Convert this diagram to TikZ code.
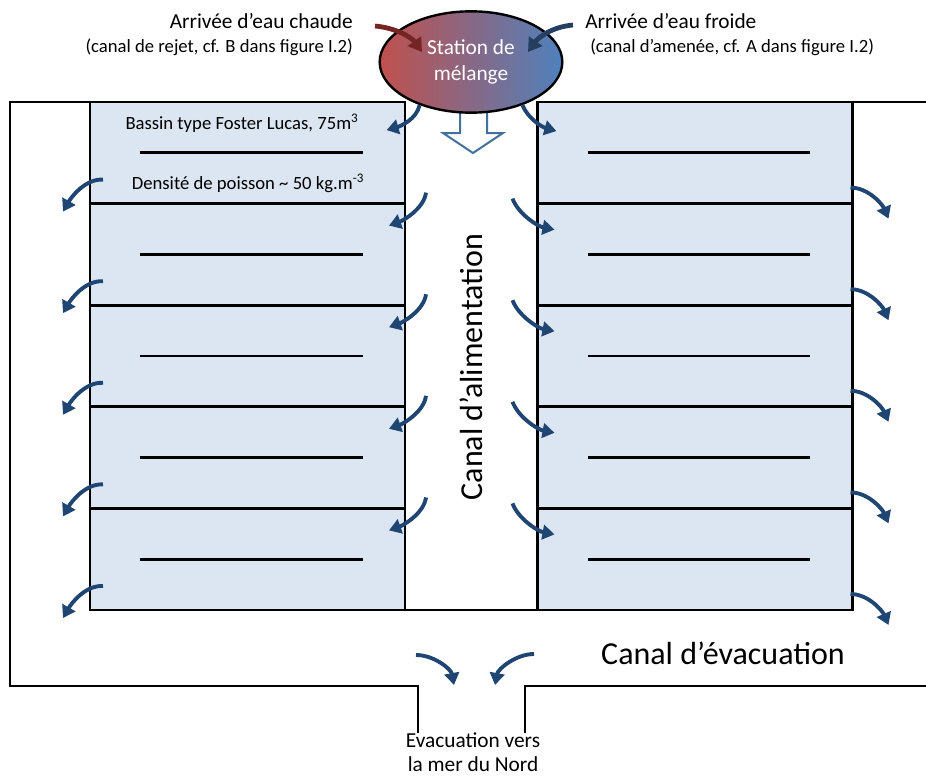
\documentclass[tikz,border=0pt]{standalone}
\usepackage{fontspec}
\setmainfont{Carlito}
\usetikzlibrary{positioning,arrows.meta,shapes.geometric}

\definecolor{bassinbleu}{RGB}{220,230,242}
\definecolor{flechebleu}{RGB}{31,69,115}
\definecolor{chaudrouge}{RGB}{192,80,77}
\definecolor{froidbleu}{RGB}{79,129,189}
\definecolor{entreerouge}{RGB}{117,38,36}
\definecolor{entreebleu}{RGB}{36,63,96}
\definecolor{contour}{RGB}{65,113,156}

\begin{document}
\begin{tikzpicture}[x=0.75pt,y=-0.75pt,node distance=76.2pt,on grid,
    bassin/.style={draw,line width=2.1pt,fill=bassinbleu,minimum width=236.25pt,minimum height=76.2pt,inner sep=0pt,outer sep=0pt},
    mur/.style={line width=2.1pt},
    flux/.style={-{Triangle[length=9pt,width=11pt]},line width=2.9pt,draw=flechebleu},
    entree/.style={-{Triangle[length=10pt,width=12pt]},line width=3.6pt},
    titre/.style={inner sep=0pt,font=\fontsize{16}{18}\selectfont},
    etiquette/.style={inner sep=0pt,font=\fontsize{14}{18}\selectfont},
    grand/.style={inner sep=0pt,font=\fontsize{24}{29}\selectfont}]

\useasboundingbox (0,0) rectangle (926,778);

% bassins
\node[bassin] (L1) at (247.5,152.8) {};
\node[bassin] (R1) at (695,152.8) {};
\foreach \i [count=\j from 2] in {1,...,4} {
    \node[bassin,below=of L\i] (L\j) {};
    \node[bassin,below=of R\i] (R\j) {};
}
\foreach \i in {1,...,5} {
    \draw[mur] (L\i.center) ++(-108,0) -- ++(223,0);
    \draw[mur] (R\i.center) ++(-107,0) -- ++(222,0);
}

% murs du canal
\draw[mur] (L1.north west) -- (10,102) -- (10,686) -- (418,686) -- (418,733);
\draw[mur] (525,733) -- (525,686) -- (926,686);
\draw[mur] (R1.north east) -- (926,102);
\draw[mur] (L5.south east) -- (R5.south west);

% fleche creuse
\draw[line width=1.5pt,draw=contour,fill=white] (460,100) -- (460,133) -- (443,133) -- (473,153)
    -- (503,133) -- (487,133) -- (487,100) -- cycle;

\node[ellipse,draw=black,line width=1.8pt,left color=chaudrouge,right color=froidbleu,
    minimum width=137pt,minimum height=76pt,inner sep=0pt,text=white,align=center,
    font=\fontsize{16}{19}\selectfont] (station) at (471,62) {Station de\\mélange};

% textes
\node[titre,anchor=east] (chaude) at (353,21) {Arrivée d’eau chaude};
\node[etiquette,anchor=east] (rejet) at (353,47) {(canal de rejet, cf. B dans figure I.2)};
\node[titre,anchor=west] (froide) at (585,21) {Arrivée d’eau froide};
\node[etiquette,anchor=west] (amenee) at (590,47) {(canal d’amenée, cf. A dans figure I.2)};
\node[etiquette] (foster) at (242,123) {Bassin type Foster Lucas, 75m\textsuperscript{3}};
\node[etiquette] (densite) at (248,183) {Densité de poisson \textasciitilde{} 50 kg.m\textsuperscript{-3}};
\node[grand,rotate=90] (alim) at (471,367) {Canal d’alimentation};
\node[grand] (evac) at (723,653) {Canal d’évacuation};
\node[titre,align=center] (mer) at (473,752) {Evacuation vers\\la mer du Nord};

% arrivees
\draw[entree,draw=entreerouge] ([shift={(22,5)}]chaude.east) .. controls +(22,2) and +(-10,-14) .. ++(47,26);
\draw[entree,draw=entreebleu] ([shift={(-12,4)}]froide.west) .. controls +(-22,2) and +(10,-14) .. ++(-45,27);

% ecoulements
\draw[flux] (station.220) .. controls +(-3,14) and +(14,-4) .. ++(-33,25);
\draw[flux] (station.320) .. controls +(6,14) and +(-14,-4) .. ++(34,26);
\foreach \i in {1,...,4} {
    \draw[flux] ([shift={(21,-11)}]L\i.south east) .. controls +(-2,16) and +(14,-5) .. ++(-37,33);
    \draw[flux] ([shift={(-25,-5)}]R\i.south west) .. controls +(6,16) and +(-16,-3) .. ++(42,31);
}
\foreach \i in {1,...,5} {
    \draw[flux] ([shift={(13,-24)}]L\i.south west) .. controls +(-18,-1) and +(8,-14) .. ++(-40,32);
    \draw[flux] ([shift={(-2,-16)}]R\i.south east) .. controls +(18,0) and +(-6,-14) .. ++(38,31);
}
\draw[flux] (416,655) .. controls +(18,0) and +(-3,-16) .. ++(38,30);
\draw[flux] (534,654) .. controls +(-18,0) and +(3,-16) .. ++(-39,31);

\end{tikzpicture}
\end{document}
